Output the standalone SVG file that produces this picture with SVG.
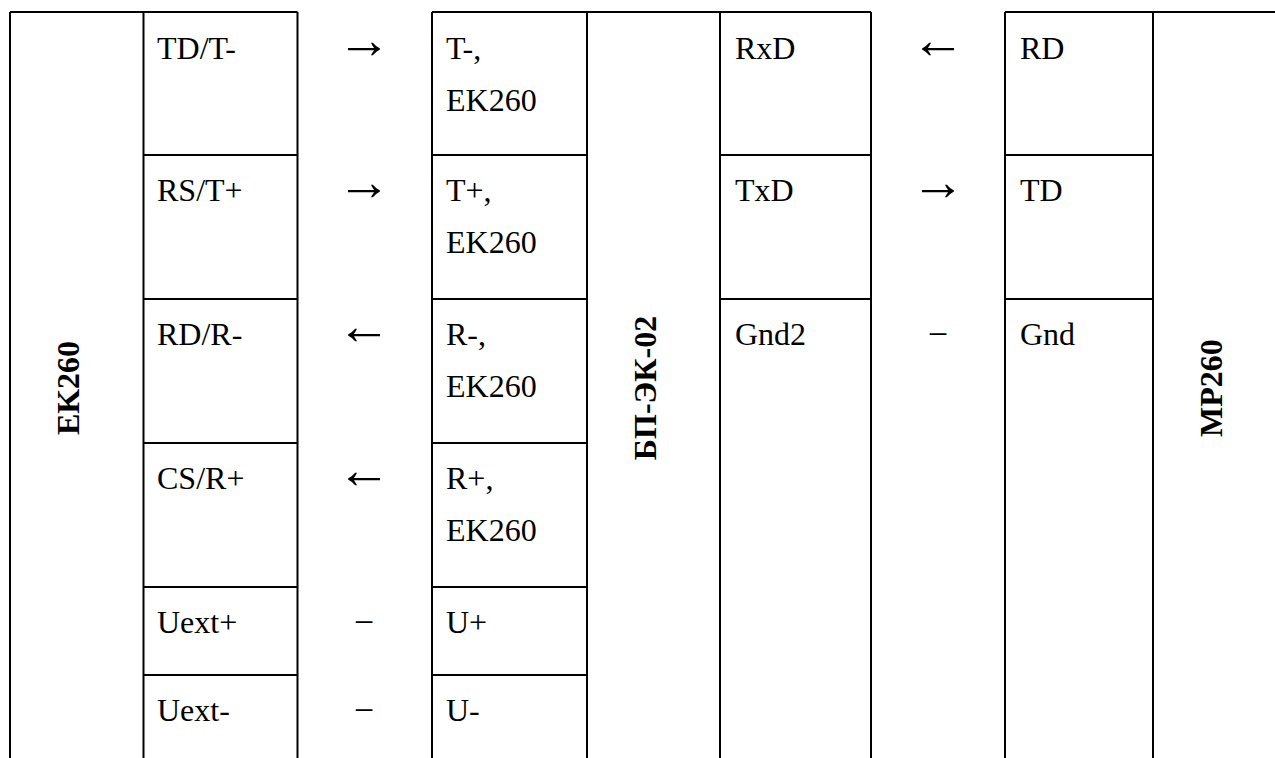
<svg xmlns="http://www.w3.org/2000/svg" width="1275" height="758" viewBox="0 0 1275 758">
<style>
.ln{stroke:#000;stroke-width:2;fill:none}
.t{font-size:32px;fill:#000}
.b{font-size:32px;fill:#000;font-weight:bold;text-anchor:middle}
.a{font-size:54px;fill:#000;text-anchor:middle}
.m{font-size:36px;fill:#000;text-anchor:middle}
</style>
<rect width="1275" height="758" fill="#fff"/>
<g id="grid" class="ln">
<path d="M10 12H297.5M432 12H871M1005 12H1275"/>
<path d="M10 12V758M143.5 12V758M297.5 12V758M432 12V758M587 12V758M720 12V758M871 12V758M1005 12V758M1153 12V758"/>
<path d="M143.5 155H297.5M143.5 299H297.5M143.5 443H297.5M143.5 587H297.5M143.5 675H297.5"/>
<path d="M432 155H587M432 299H587M432 443H587M432 587H587M432 675H587"/>
<path d="M720 155H871M720 299H871M1005 155H1153M1005 299H1153"/>
</g>
<g id="ek260">
<text class="b" font-family="Liberation Serif" transform="translate(79,388) rotate(-90)">EK260</text>
<text class="t" font-family="Liberation Serif" x="157" y="59">TD/T-</text>
<text class="t" font-family="Liberation Serif" x="157" y="201">RS/T+</text>
<text class="t" font-family="Liberation Serif" x="157" y="345">RD/R-</text>
<text class="t" font-family="Liberation Serif" x="157" y="489">CS/R+</text>
<text class="t" font-family="Liberation Serif" x="157" y="633">Uext+</text>
<text class="t" font-family="Liberation Serif" x="157" y="721">Uext-</text>
</g>
<g id="bp-ek-02">
<text class="t" font-family="Liberation Serif" x="446" y="59">T-,</text>
<text class="t" font-family="Liberation Serif" x="446" y="111">EK260</text>
<text class="t" font-family="Liberation Serif" x="446" y="201">T+,</text>
<text class="t" font-family="Liberation Serif" x="446" y="253">EK260</text>
<text class="t" font-family="Liberation Serif" x="446" y="345">R-,</text>
<text class="t" font-family="Liberation Serif" x="446" y="397">EK260</text>
<text class="t" font-family="Liberation Serif" x="446" y="489">R+,</text>
<text class="t" font-family="Liberation Serif" x="446" y="541">EK260</text>
<text class="t" font-family="Liberation Serif" x="446" y="633">U+</text>
<text class="t" font-family="Liberation Serif" x="446" y="721">U-</text>
<text class="b" font-family="Liberation Serif" transform="translate(656,388) rotate(-90)">БП-ЭК-02</text>
<text class="t" font-family="Liberation Serif" x="735" y="59">RxD</text>
<text class="t" font-family="Liberation Serif" x="735" y="201">TxD</text>
<text class="t" font-family="Liberation Serif" x="735" y="345">Gnd2</text>
</g>
<g id="mp260">
<text class="t" font-family="Liberation Serif" x="1020" y="59">RD</text>
<text class="t" font-family="Liberation Serif" x="1020" y="201">TD</text>
<text class="t" font-family="Liberation Serif" x="1020" y="345">Gnd</text>
<text class="b" font-family="Liberation Serif" transform="translate(1222,388) rotate(-90)">MP260</text>
</g>
<g id="connectors">
<text class="a" font-family="Liberation Serif" x="364" y="58">→</text>
<text class="a" font-family="Liberation Serif" x="364" y="200">→</text>
<text class="a" font-family="Liberation Serif" x="364" y="344">←</text>
<text class="a" font-family="Liberation Serif" x="364" y="488">←</text>
<text class="m" font-family="Liberation Serif" x="364" y="634">−</text>
<text class="m" font-family="Liberation Serif" x="364" y="722">−</text>
<text class="a" font-family="Liberation Serif" x="938" y="58">←</text>
<text class="a" font-family="Liberation Serif" x="938" y="200">→</text>
<text class="m" font-family="Liberation Serif" x="938" y="346">−</text>
</g>
</svg>
